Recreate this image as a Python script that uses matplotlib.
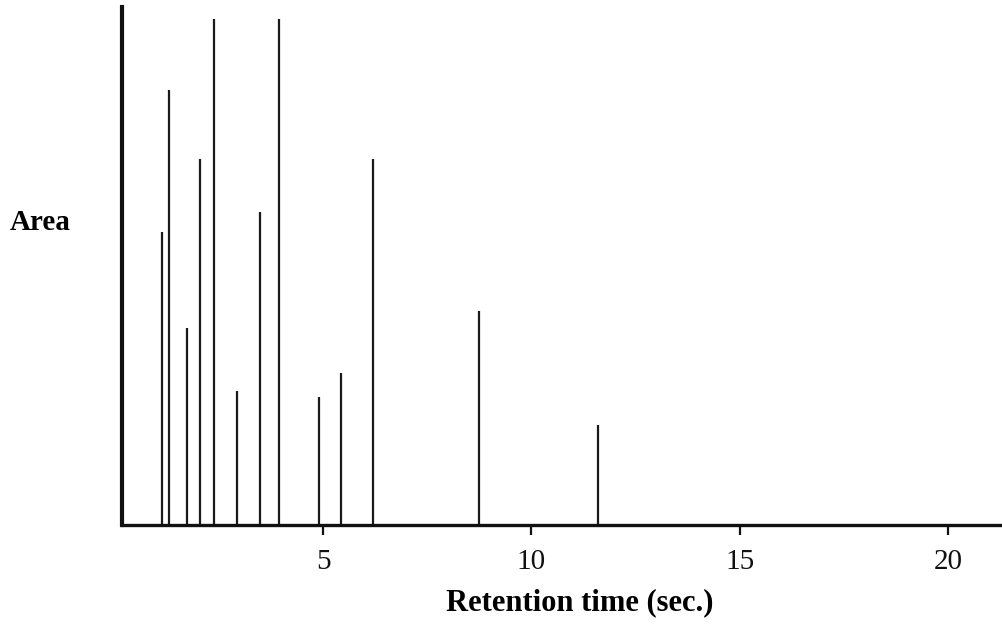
import matplotlib
matplotlib.use("Agg")
import matplotlib.pyplot as plt

retention_times = [1.13, 1.30, 1.73, 2.04, 2.38, 2.93, 3.49, 3.94, 4.90, 5.43, 6.20, 8.75, 11.59]
areas = [293, 435, 197, 366, 506, 134, 313, 506, 128, 152, 366, 214, 100]
tick_values = [5, 10, 15, 20]
tick_labels = ["5", "10", "15", "20"]

plt.rcParams['font.family'] = ['Liberation Serif', 'DejaVu Serif']

fig = plt.figure(figsize=(10.02, 6.26), dpi=100)
ax = fig.add_axes([0.1218, 0.161, 0.8782, 0.828])

ax.vlines(retention_times, 0, areas, colors='#1a1a1a', linewidth=1.6)

ax.set_xlim(0.17, 21.3)
ax.set_ylim(0, 518)

ax.spines['top'].set_visible(False)
ax.spines['right'].set_visible(False)
ax.spines['left'].set_linewidth(3.0)
ax.spines['bottom'].set_linewidth(2.4)
ax.spines['left'].set_color('#111111')
ax.spines['bottom'].set_color('#111111')

ax.set_xticks(tick_values)
ax.set_xticklabels(tick_labels, fontsize=21)
ax.tick_params(axis='x', length=7, width=1.6, pad=10, colors='#111111')
ax.set_yticks([])

ax.set_xlabel("Retention time (sec.)", fontsize=22, fontweight='bold', va='center')
ax.xaxis.set_label_coords(0.52, -0.15)
fig.text(0.01, 0.645, "Area", fontsize=21, fontweight='bold', ha='left', va='center')

fig.savefig("out.png", dpi=100, facecolor='white')
